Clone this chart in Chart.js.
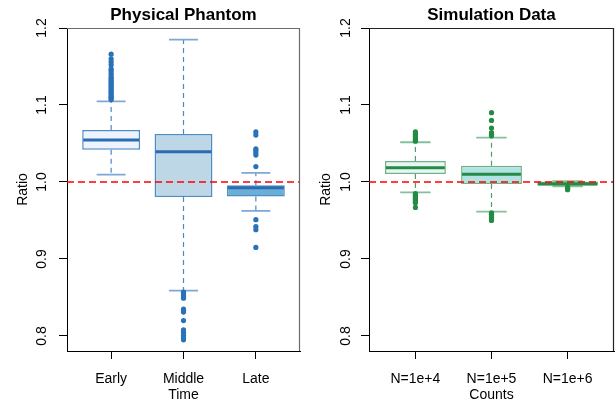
<!DOCTYPE html>
<html>
<head>
<meta charset="utf-8">
<script src="https://cdn.jsdelivr.net/npm/chart.js@4.4.1/dist/chart.umd.min.js"></script>
<style>
  html, body { margin: 0; padding: 0; background: #fff; overflow: hidden; }
  #wrap { position: relative; width: 616px; height: 405px; overflow: hidden; }
  canvas { position: absolute; top: 0; }
</style>
</head>
<body>
<div id="wrap">
  <canvas id="phantom" width="306" height="405" style="left:0px"></canvas>
  <canvas id="sim" width="312" height="405" style="left:306px"></canvas>
</div>
<script>
const FONT = "'Liberation Sans', Arial, Helvetica, sans-serif";

const yTicks = [0.8, 0.9, 1.0, 1.1, 1.2];
const refLine = 1.0;

// Physical Phantom
const phantomLabels = ['Early', 'Middle', 'Late'];
const phantomQ1 = [1.042, 0.9805, 0.981];
const phantomMedian = [1.0545, 1.0394, 0.9926];
const phantomQ3 = [1.0675, 1.0623, 0.9957];
const phantomLow = [1.0095, 0.8588, 0.9625];
const phantomHigh = [1.1048, 1.1848, 1.0118];
const phantomOutliers = [
    [1.107, 1.109, 1.110, 1.112, 1.114, 1.116, 1.118, 1.120, 1.122, 1.124, 1.126, 1.128,
     1.130, 1.132, 1.134, 1.136, 1.139, 1.142, 1.145, 1.147, 1.152, 1.156, 1.160, 1.166],
    [0.857, 0.855, 0.853, 0.851, 0.849, 0.835, 0.833, 0.831, 0.820, 0.808, 0.805, 0.801, 0.798, 0.795],
    [1.065, 1.061, 1.043, 1.041, 1.038, 1.035, 1.020, 0.951, 0.942, 0.938, 0.915]
];

// Simulation Data
const simLabels = ['N=1e+4', 'N=1e+5', 'N=1e+6'];
const simQ1 = [1.0104, 0.9974, 0.9955];
const simMedian = [1.0186, 1.0100, 0.9975];
const simQ3 = [1.0273, 1.0212, 1.0005];
const simLow = [0.9866, 0.9614, 0.9945];
const simHigh = [1.0516, 1.0575, 1.0012];
const simOutliers = [
    [1.065, 1.063, 1.061, 1.059, 1.057, 1.055, 1.053, 0.985, 0.983, 0.981, 0.979, 0.977, 0.975, 0.973, 0.967],
    [1.090, 1.080, 1.070, 1.064, 1.062, 1.060, 0.960, 0.958, 0.956, 0.954, 0.952, 0.950],
    [0.9935, 0.992, 0.991, 0.990]
];

const xMin = 0.39, xMax = 3.61;
const yMin = 0.7805, yMax = 1.2;

// medians, whiskers and caps, drawn right after the boxes
const boxplotPlugin = {
    id: 'boxplot',
    afterDatasetDraw(chart, args, opts) {
        if (chart.data.datasets[args.index].type !== 'bar') return;
        const ctx = chart.ctx;
        const x = chart.scales.x, y = chart.scales.y;
        ctx.save();
        opts.median.forEach(function (m, i) {
            const cx = x.getPixelForValue(i + 1);
            const half = x.getPixelForValue(i + 1.4) - cx;
            const cap = half / 2;

            // whiskers
            ctx.setLineDash([5, 4]);
            ctx.lineWidth = 1.2;
            ctx.strokeStyle = opts.whiskerColor;
            ctx.beginPath();
            ctx.moveTo(cx, y.getPixelForValue(opts.q3[i]));
            ctx.lineTo(cx, y.getPixelForValue(opts.high[i]));
            ctx.moveTo(cx, y.getPixelForValue(opts.q1[i]));
            ctx.lineTo(cx, y.getPixelForValue(opts.low[i]));
            ctx.stroke();

            // caps
            ctx.setLineDash([]);
            ctx.lineWidth = 1.8;
            ctx.strokeStyle = opts.capColor;
            ctx.beginPath();
            ctx.moveTo(cx - cap, y.getPixelForValue(opts.high[i]));
            ctx.lineTo(cx + cap, y.getPixelForValue(opts.high[i]));
            ctx.moveTo(cx - cap, y.getPixelForValue(opts.low[i]));
            ctx.lineTo(cx + cap, y.getPixelForValue(opts.low[i]));
            ctx.stroke();

            // median
            ctx.lineWidth = 3;
            ctx.strokeStyle = opts.medianColor;
            ctx.beginPath();
            ctx.moveTo(cx - half + 1, y.getPixelForValue(m));
            ctx.lineTo(cx + half - 1, y.getPixelForValue(m));
            ctx.stroke();
        });
        ctx.restore();
    },
    afterDraw(chart, args, opts) {
        const ctx = chart.ctx;
        const a = chart.chartArea;
        ctx.save();
        ctx.strokeStyle = opts.frameColor;
        ctx.lineWidth = 1.2;
        ctx.beginPath();
        ctx.moveTo(a.left, a.top + 0.5);
        ctx.lineTo(a.right - 0.5, a.top + 0.5);
        ctx.lineTo(a.right - 0.5, a.bottom);
        ctx.stroke();
        ctx.restore();
    }
};

function buildPanel(id, p) {
    const points = [];
    p.outliers.forEach(function (arr, i) {
        arr.forEach(function (v) { points.push({x: i + 1, y: v}); });
    });
    const boxes = p.q1.map(function (v, i) { return {x: i + 1, y: [v, p.q3[i]]}; });

    const config = {
        type: 'bar',
        data: {
            datasets: [{
                type: 'line',
                data: [{x: xMin, y: refLine}, {x: xMax, y: refLine}],
                borderColor: '#ff0000',
                borderWidth: 1.3,
                borderDash: [7, 4],
                pointRadius: 0,
                order: 0
            }, {
                type: 'scatter',
                data: points,
                backgroundColor: p.pointColor,
                borderWidth: 0,
                pointRadius: 2.6,
                order: 1
            }, {
                type: 'bar',
                data: boxes,
                backgroundColor: p.fills,
                borderColor: p.boxBorder,
                borderWidth: 1.5,
                borderSkipped: false,
                barPercentage: 0.8,
                categoryPercentage: 1,
                order: 2
            }]
        },
        options: {
            responsive: false,
            animation: false,
            events: [],
            layout: {padding: {left: 0, right: p.padRight, top: 0, bottom: 0}},
            plugins: {
                legend: {display: false},
                tooltip: {enabled: false},
                title: {
                    display: true,
                    text: p.title,
                    fullSize: false,
                    color: '#000',
                    font: {family: FONT, size: 17, weight: 'bold', lineHeight: 1},
                    padding: {top: 7, bottom: 4}
                },
                boxplot: {
                    q1: p.q1, q3: p.q3, median: p.median, low: p.low, high: p.high,
                    whiskerColor: p.whiskerColor, capColor: p.capColor,
                    medianColor: p.medianColor, frameColor: p.frameColor
                }
            },
            scales: {
                x: {
                    type: 'linear',
                    min: xMin,
                    max: xMax,
                    offset: false,
                    afterBuildTicks: function (s) {
                        s.ticks = p.labels.map(function (l, i) { return {value: i + 1}; });
                    },
                    afterFit: function (s) { s.height = 54; },
                    ticks: {
                        callback: function (v) { return p.labels[v - 1]; },
                        color: '#000',
                        font: {family: FONT, size: 14},
                        padding: 12,
                        maxRotation: 0,
                        autoSkip: false
                    },
                    grid: {drawOnChartArea: false, tickLength: 8, color: '#000', offset: false},
                    border: {display: true, color: '#000', width: 1},
                    title: {
                        display: true, text: p.xTitle, color: '#000',
                        font: {family: FONT, size: 14}, padding: {top: 0, bottom: 1}
                    }
                },
                y: {
                    type: 'linear',
                    min: yMin,
                    max: yMax,
                    afterBuildTicks: function (s) {
                        s.ticks = yTicks.map(function (v) { return {value: v}; });
                    },
                    afterFit: function (s) { s.width = p.yAxisWidth; },
                    ticks: {
                        callback: function (v) { return v.toFixed(1); },
                        color: '#000',
                        font: {family: FONT, size: 14},
                        padding: p.yTickPad,
                        minRotation: 90,
                        maxRotation: 90,
                        crossAlign: 'center'
                    },
                    grid: {drawOnChartArea: false, tickLength: 8, color: '#000'},
                    border: {display: true, color: '#000', width: 1},
                    title: {
                        display: true, text: 'Ratio', color: '#000',
                        font: {family: FONT, size: 14}, padding: {top: p.yTitlePad, bottom: 0}
                    }
                }
            }
        },
        plugins: [boxplotPlugin]
    };
    return new Chart(document.getElementById(id), config);
}

buildPanel('phantom', {
    title: 'Physical Phantom', xTitle: 'Time', labels: phantomLabels,
    q1: phantomQ1, median: phantomMedian, q3: phantomQ3, low: phantomLow, high: phantomHigh,
    outliers: phantomOutliers,
    fills: ['#eff3ff', '#bdd7e7', '#6baed6'],
    boxBorder: 'rgba(33,113,181,0.8)',
    medianColor: '#2b6cb0',
    whiskerColor: '#4a88c6',
    capColor: '#7fa8d4',
    pointColor: '#2a72b8',
    frameColor: '#6b6b6b',
    padRight: 6, yAxisWidth: 67, yTickPad: 7, yTitlePad: 15
});

buildPanel('sim', {
    title: 'Simulation Data', xTitle: 'Counts', labels: simLabels,
    q1: simQ1, median: simMedian, q3: simQ3, low: simLow, high: simHigh,
    outliers: simOutliers,
    fills: ['#e8f6f3', '#b2e2e2', '#8fd0b0'],
    boxBorder: 'rgba(35,139,69,0.65)',
    medianColor: '#238b45',
    whiskerColor: '#4e9f6e',
    capColor: '#82c19a',
    pointColor: '#238b45',
    frameColor: '#222',
    padRight: 1, yAxisWidth: 63, yTickPad: 5, yTitlePad: 12
});
</script>
</body>
</html>
